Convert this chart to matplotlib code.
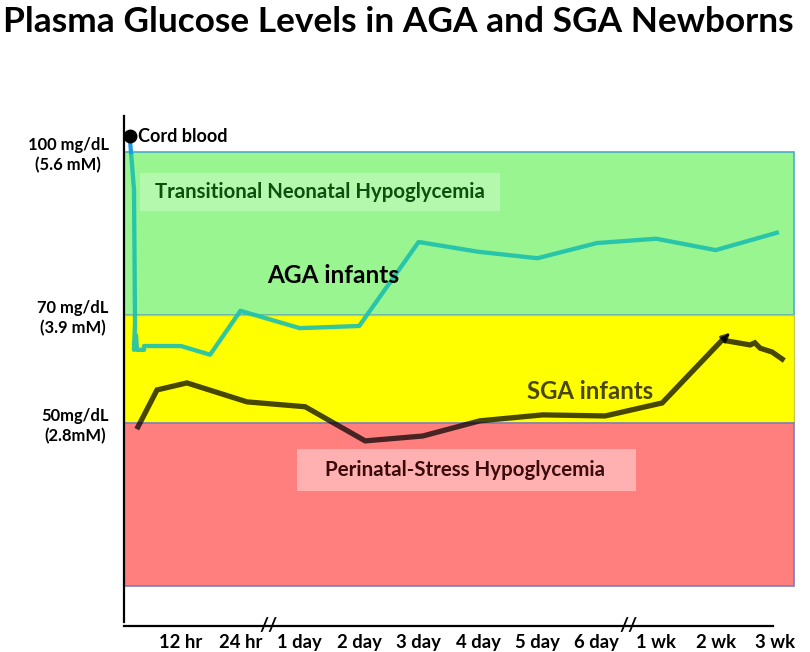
import matplotlib
matplotlib.use("Agg")
import matplotlib.pyplot as plt
from matplotlib.patches import Rectangle

plt.rcParams['font.family'] = ['Lato', 'DejaVu Sans']
plt.rcParams['font.weight'] = 'bold'

# ---- data ----
title = "Plasma Glucose Levels in AGA and SGA Newborns"
tick_pos = [1, 2, 3, 4, 5, 6, 7, 8, 9, 10, 11]
tick_labels = ["12 hr", "24 hr", "1 day", "2 day", "3 day", "4 day",
               "5 day", "6 day", "1 wk", "2 wk", "3 wk"]
y_ticks = [100, 70, 50]
y_tick_labels = ["100 mg/dL\n(5.6 mM)", "70 mg/dL\n(3.9 mM)", "50mg/dL\n(2.8mM)"]

# band thresholds (mg/dL)
band_low = 20
band_50 = 50
band_70 = 70
band_100 = 100

cord_x = [0.141]
cord_y = [102.95]
cord_seg_x = [0.141, 0.158]
cord_seg_y = [102.2, 100.0]

aga_x = [0.158, 0.209, 0.226, 0.209, 0.242, 0.259, 0.377, 0.377, 1.0, 1.49,
         2.0, 3.0, 4.0, 5.0, 6.0, 7.0, 8.0, 9.0, 10.0, 11.03]
aga_y = [100.0, 93.0, 68.4, 63.5, 66.2, 63.5, 63.5, 64.2, 64.2, 62.6,
         70.7, 67.5, 67.9, 83.4, 81.6, 80.4, 83.2, 84.0, 81.9, 85.1]

sga_x = [0.276, 0.596, 1.10, 2.11, 3.09, 4.10, 5.07, 6.03, 7.09, 8.14,
         9.10, 10.11, 10.58, 10.66, 10.75, 10.95, 11.12]
sga_y = [49.3, 56.1, 57.4, 53.9, 53.0, 46.7, 47.6, 50.4, 51.5, 51.3,
         53.7, 65.3, 64.4, 64.8, 63.8, 63.1, 61.8]

# ---- figure ----
fig = plt.figure(figsize=(8.10, 6.52), dpi=100)
ax = fig.add_axes([124/810, 26/652, 671/810, 510/652])
ax.set_xlim(0.0404, 11.336)
ax.set_ylim(12.55, 106.64)

band_x0, band_x1 = 0.0404, 11.32
ax.add_patch(Rectangle((band_x0, band_70), band_x1 - band_x0, band_100 - band_70,
                       facecolor='#99f590', edgecolor='#4bacc6', lw=1.2, zorder=1))
ax.add_patch(Rectangle((band_x0, band_50), band_x1 - band_x0, band_70 - band_50,
                       facecolor='#ffff00', edgecolor='#c8c850', lw=1.0, zorder=1))
ax.add_patch(Rectangle((band_x0, band_low), band_x1 - band_x0, band_50 - band_low,
                       facecolor='#ff7f7f', edgecolor='#7b7bc4', lw=1.2, zorder=1))

# label boxes
ax.add_patch(Rectangle((0.31, 89.11), 6.06, 7.02, facecolor='#b3f8ad',
                       edgecolor='none', zorder=2))
ax.text(3.34, 92.6, "Transitional Neonatal Hypoglycemia", ha='center', va='center',
        fontsize=14.7, fontweight='bold', color='#0d4f0d', zorder=5)
ax.add_patch(Rectangle((2.953, 37.45), 5.707, 7.75, facecolor='#ffb1b1',
                       edgecolor='none', zorder=2))
ax.text(5.78, 41.3, "Perinatal-Stress Hypoglycemia", ha='center', va='center',
        fontsize=14.8, fontweight='bold', color='#3b0b0b', zorder=5)

# lines
ax.plot(sga_x, sga_y, color='black', alpha=0.72, lw=3.8, solid_joinstyle='miter',
        zorder=3, clip_on=False)
ax.annotate("", xy=(10.28, 67.0), xytext=(10.11, 65.3),
            arrowprops=dict(arrowstyle='-|>,head_length=0.5,head_width=0.25',
                            color='black', alpha=0.72, lw=2), zorder=3)
ax.plot(aga_x, aga_y, color='#1fc1ae', alpha=0.92, lw=3.1, zorder=3, clip_on=False)
ax.plot(cord_seg_x, cord_seg_y, color='#1e9be0', lw=3.0, zorder=3, clip_on=False)
ax.plot(cord_x, cord_y, 'o', color='black', markersize=9, zorder=6, clip_on=False)
ax.text(0.27, 102.95, "Cord blood", ha='left', va='center', fontsize=13,
        fontweight='bold', color='black', zorder=6)

ax.text(3.567, 77.3, "AGA infants", ha='center', va='center', fontsize=17.6,
        fontweight='bold', color='black', zorder=5)
ax.text(7.886, 55.9, "SGA infants", ha='center', va='center', fontsize=17.2,
        fontweight='bold', color='#4a4700', zorder=5)

# axes styling
for s in ['top', 'right']:
    ax.spines[s].set_visible(False)
ax.spines['left'].set_linewidth(1.6)
ax.spines['bottom'].set_linewidth(1.6)
ax.spines['left'].set_bounds(13.34, 106.64)
ax.spines['bottom'].set_bounds(0.0404, 10.966)
ax.set_xticks(tick_pos)
ax.set_xticklabels(tick_labels, fontsize=13.3, fontweight='bold')
ax.set_yticks(y_ticks)
ax.set_yticklabels(y_tick_labels, fontsize=11.9, fontweight='bold')
for lab in ax.get_yticklabels():
    lab.set_multialignment('center')
    lab.set_linespacing(1.3)
ax.tick_params(axis='both', length=0)
ax.tick_params(axis='x', pad=6)
ax.tick_params(axis='y', pad=11)

# axis break marks
for bx in [2.468, 8.53]:
    ax.text(bx, 12.55, "//", ha='center', va='center', fontsize=14,
            fontweight='bold', color='black', clip_on=False, zorder=6)

fig.text(0.004, 0.966, title, ha='left', va='center', fontsize=25.4,
         fontweight='bold', color='black')

fig.savefig("out.png", dpi=100)
